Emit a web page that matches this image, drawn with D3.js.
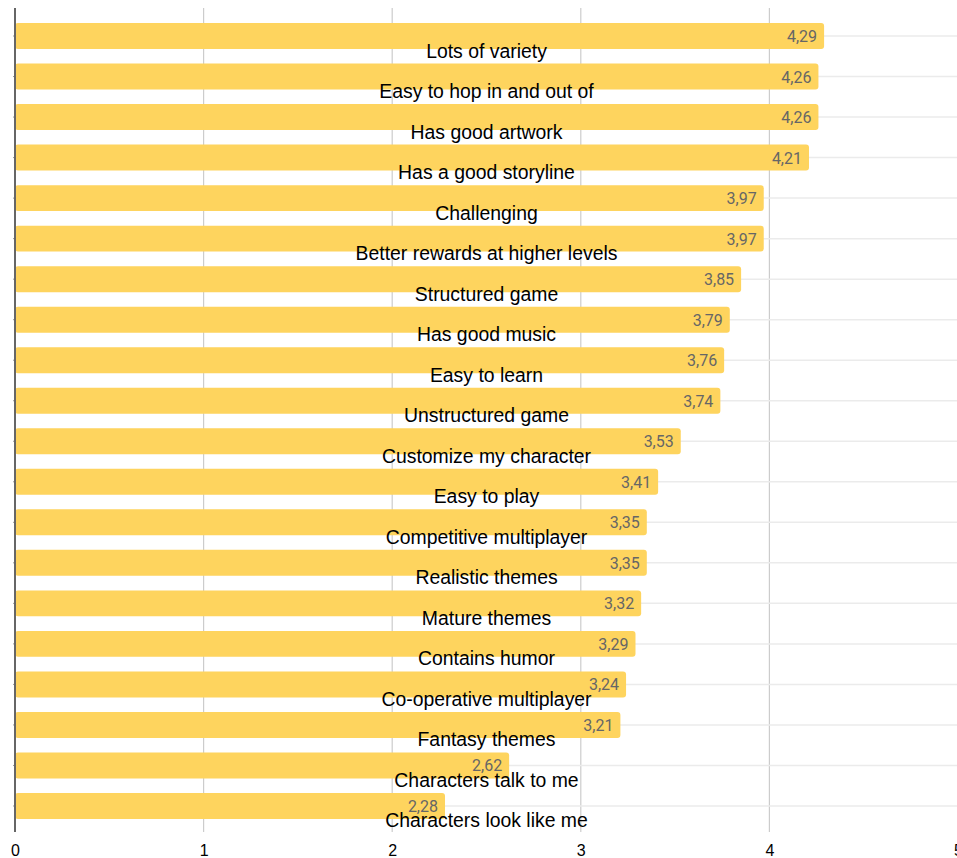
<!DOCTYPE html>
<html>
<head>
<meta charset="utf-8">
<script src="https://cdn.jsdelivr.net/npm/d3@7"></script>
<style>
    body { margin: 0; background: #fff; }
    svg { display: block; }
</style>
</head>
<body>
<div id="chart"></div>
<script>
// data
let categories = [
    "Lots of variety", "Easy to hop in and out of", "Has good artwork", "Has a good storyline",
    "Challenging", "Better rewards at higher levels", "Structured game", "Has good music",
    "Easy to learn", "Unstructured game", "Customize my character", "Easy to play",
    "Competitive multiplayer", "Realistic themes", "Mature themes", "Contains humor",
    "Co-operative multiplayer", "Fantasy themes", "Characters talk to me", "Characters look like me"
];
let values = [4.29, 4.26, 4.26, 4.21, 3.97, 3.97, 3.85, 3.79, 3.76, 3.74,
    3.53, 3.41, 3.35, 3.35, 3.32, 3.29, 3.24, 3.21, 2.62, 2.28];
let xTicks = [0, 1, 2, 3, 4, 5];

let data = categories.map((c, i) => ({ name: c, value: values[i] }));

let width = 957, height = 858;
let margin = { left: 15, top: 8 };

let svg = d3.select("#chart").append("svg")
    .attr("width", width)
    .attr("height", height);

let x = d3.scaleLinear()
    .domain([0, 5])
    .range([margin.left, 958]);

let y = d3.scaleBand()
    .domain(categories)
    .range([15.75, 826.25])
    .paddingInner(0.36)
    .paddingOuter(0.18);

let fmt = d3.formatLocale({ decimal: ",", thousands: ".", grouping: [3], currency: ["", ""] }).format(".2f");

// vertical gridlines
svg.append("g")
    .selectAll("line")
    .data(xTicks.slice(1))
    .join("line")
    .attr("x1", d => x(d)).attr("x2", d => x(d))
    .attr("y1", margin.top).attr("y2", 832)
    .attr("stroke", "#cccccc")
    .attr("stroke-width", 1.2);

// horizontal lines at band centers
svg.append("g")
    .selectAll("line")
    .data(data)
    .join("line")
    .attr("x1", x(0)).attr("x2", width)
    .attr("y1", d => y(d.name) + y.bandwidth() / 2)
    .attr("y2", d => y(d.name) + y.bandwidth() / 2)
    .attr("stroke", "#ebebeb")
    .attr("stroke-width", 1.5);

// bars
svg.append("g")
    .selectAll("rect")
    .data(data)
    .join("rect")
    .attr("x", x(0))
    .attr("y", d => y(d.name))
    .attr("width", d => x(d.value) - x(0))
    .attr("height", y.bandwidth())
    .attr("rx", 3)
    .attr("fill", "#fed45e");

// left axis line with small ticks
let yAxis = d3.axisLeft(y).tickSize(2).tickFormat("");
let yG = svg.append("g")
    .attr("transform", "translate(" + x(0) + ",0)")
    .call(yAxis);
yG.select(".domain").remove();
yG.selectAll("line").attr("stroke", "#999");
svg.append("line")
    .attr("x1", x(0)).attr("x2", x(0))
    .attr("y1", margin.top).attr("y2", 832)
    .attr("stroke", "#666")
    .attr("stroke-width", 2);

// value labels
svg.append("g")
    .selectAll("text")
    .data(data)
    .join("text")
    .attr("x", d => x(d.value) - 7)
    .attr("y", d => y(d.name) + y.bandwidth() / 2 + 6)
    .attr("text-anchor", "end")
    .style("font-family", "Roboto, sans-serif")
    .style("font-size", "16px")
    .attr("fill", "#666")
    .text(d => fmt(d.value));

// category labels, centred below each bar
svg.append("g")
    .selectAll("text")
    .data(data)
    .join("text")
    .attr("x", (x(0) + x(5)) / 2)
    .attr("y", d => y(d.name) + y.bandwidth() / 2 + 21.5)
    .attr("text-anchor", "middle")
    .style("font-family", "'Liberation Sans', Arial, sans-serif")
    .style("font-size", "19.4px")
    .attr("fill", "#000")
    .text(d => d.name);

// x axis tick labels
let xAxis = d3.axisBottom(x).tickValues(xTicks).tickFormat(d3.format("d")).tickSize(0).tickPadding(0);
let xG = svg.append("g")
    .attr("transform", "translate(0,845)")
    .call(xAxis);
xG.select(".domain").remove();
xG.selectAll("text")
    .attr("dy", "0.71em")
    .style("font-family", "'Liberation Sans', Arial, sans-serif")
    .style("font-size", "16px")
    .attr("fill", "#000");
</script>
</body>
</html>
